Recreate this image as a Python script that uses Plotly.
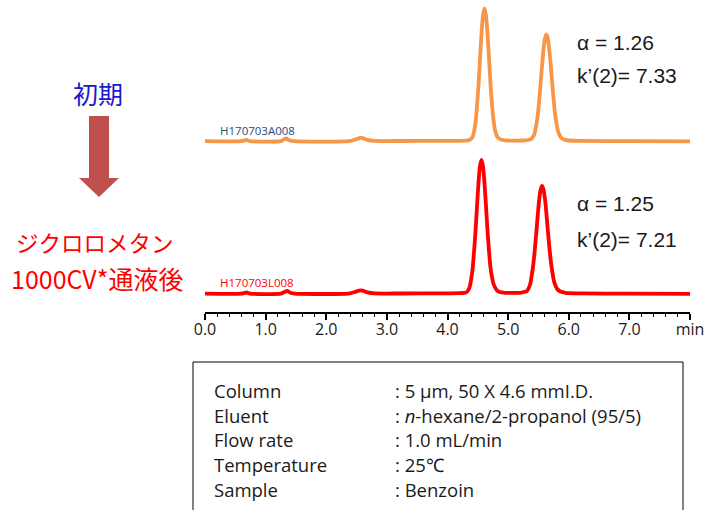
import plotly.graph_objects as go

# ---------------- data ----------------
# time axis in minutes, signal in arbitrary units (baseline = 0)
t_initial = [0.0, 0.60, 0.65, 0.69, 0.74, 1.25, 1.30, 1.34, 1.39, 1.46, 2.38, 2.48, 2.56, 2.60, 2.68, 2.80, 3.20, 3.90,
             4.30, 4.36, 4.41, 4.46, 4.51, 4.535, 4.56, 4.585, 4.61, 4.635, 4.66, 4.685, 4.71, 4.735, 4.76, 4.785,
             4.81, 4.86, 4.91, 4.97, 5.05, 5.15,
             5.25, 5.33, 5.38, 5.43, 5.48, 5.505, 5.53, 5.555, 5.58, 5.605, 5.63, 5.655, 5.68, 5.705, 5.73, 5.755,
             5.78, 5.83, 5.88, 5.93, 6.00, 6.20, 7.00, 8.0]
y_initial = [0.3, 0.3, 1.2, 1.6, 0.4, 0.3, 2.0, 3.0, 1.2, 0.4, 0.4, 2.0, 3.6, 3.4, 1.6, 0.6, 0.5, 0.6,
             0.9, 1.5, 4.0, 18, 55, 81, 107, 126, 133, 126, 108, 83, 57, 36, 21, 11,
             6, 2.5, 1.5, 1.0, 0.9, 0.9,
             1.0, 1.5, 2.5, 7, 22.5, 36, 53.5, 72.5, 90, 102.5, 107, 103, 91, 75, 56, 39,
             25, 9, 3.5, 1.8, 1.0, 0.6, 0.3, 0.2]

t_after = [0.0, 0.60, 0.65, 0.69, 0.74, 1.25, 1.31, 1.36, 1.41, 1.48, 2.36, 2.47, 2.56, 2.60, 2.68, 2.80, 3.20, 3.90,
           4.20, 4.26, 4.31, 4.36, 4.41, 4.435, 4.46, 4.485, 4.51, 4.535, 4.56, 4.585, 4.61, 4.635, 4.66, 4.685,
           4.71, 4.76, 4.81, 4.86, 4.95, 5.05,
           5.20, 5.26, 5.31, 5.36, 5.41, 5.435, 5.46, 5.485, 5.51, 5.535, 5.56, 5.585, 5.61, 5.635, 5.66, 5.685,
           5.71, 5.76, 5.81, 5.86, 5.95, 6.20, 7.00, 8.0]
y_after = [0.3, 0.3, 1.0, 1.5, 0.4, 0.3, 2.0, 3.0, 1.2, 0.4, 0.4, 2.0, 3.6, 3.4, 1.6, 0.6, 0.5, 0.6,
           0.8, 1.0, 1.5, 6, 23, 40, 61, 86, 110, 128, 134, 128, 111, 88, 63, 43,
           26, 10, 4, 2, 1.2, 1.2,
           1.2, 2, 3, 9, 27, 41, 58, 76, 93, 104, 108, 104, 94, 78, 60, 44,
           30, 12, 5, 2.5, 1.2, 0.6, 0.3, 0.2]

x_tick_vals = [0, 1, 2, 3, 4, 5, 6, 7, 8]
x_tick_text = ["0.0", "1.0", "2.0", "3.0", "4.0", "5.0", "6.0", "7.0", "min"]

label_initial = "H170703A008"
label_after = "H170703L008"
stats_initial = ["α = 1.26", "k’(2)= 7.33"]
stats_after = ["α = 1.25", "k’(2)= 7.21"]

cond_names = ["Column", "Eluent", "Flow rate", "Temperature", "Sample"]
cond_values = [": 5 µm, 50 X 4.6 mmI.D.", ": <i>n</i>-hexane/2-propanol (95/5)", ": 1.0 mL/min",
               ": 25℃", ": Benzoin"]

# ---------------- layout helpers ----------------
W, H = 705, 510
L, R, T, B = 205, 690, 0, 312       # plot area in pixels


def px(x):
    return (x - L) / (R - L)


def py(y):
    return (B - y) / (B - T)


off_initial = 170.5   # vertical stacking offsets (pixels above axis)
off_after = 18.0

fig = go.Figure()
fig.add_trace(go.Scatter(x=t_initial, y=[v + off_initial for v in y_initial], mode="lines",
                         line=dict(color="#f79646", width=3.8, shape="spline", smoothing=0.6),
                         hoverinfo="skip", showlegend=False))
fig.add_trace(go.Scatter(x=t_after, y=[v + off_after for v in y_after], mode="lines",
                         line=dict(color="#ff0000", width=3.8, shape="spline", smoothing=0.6),
                         hoverinfo="skip", showlegend=False))

ann = []


def text(x, y, s, size, color, family, xanchor="left"):
    ann.append(dict(x=px(x), y=py(y), xref="paper", yref="paper", text=s, showarrow=False,
                    xanchor=xanchor, yanchor="middle",
                    font=dict(size=size, color=color, family=family)))


CJK = "Noto Sans CJK JP"
text(98, 93, "初期", 25, "#1a1acc", CJK, "center")
text(95, 242, "ジクロロメタン", 22.5, "#ff0000", CJK, "center")
text(96.5, 278, "1000CV*通液後", 25, "#ff0000", CJK, "center")

text(218, 131, label_initial, 11.5, "#1f4e79", "Open Sans")
text(218, 282, label_after, 11.5, "#ff0000", "Open Sans")

ARIAL = "Liberation Sans"
text(575, 43, stats_initial[0], 21, "#1a1a1a", ARIAL)
text(575, 75, stats_initial[1], 21, "#1a1a1a", ARIAL)
text(575, 203, stats_after[0], 21, "#1a1a1a", ARIAL)
text(575, 240, stats_after[1], 21, "#1a1a1a", ARIAL)

row_y = [390, 415, 439.5, 464, 489]
for name, val, yy in zip(cond_names, cond_values, row_y):
    text(212, yy, name, 18.5, "#1a1a1a", "Open Sans")
    text(393, yy, val, 18.5, "#1a1a1a", "Open Sans")

# arrow (down) and the conditions box
arrow_pts = [(89, 116), (109, 116), (109, 178), (119, 178), (99, 197), (79, 178), (89, 178)]
path = "M " + " L ".join(f"{px(a):.5f},{py(b):.5f}" for a, b in arrow_pts) + " Z"
shapes = [
    dict(type="path", xref="paper", yref="paper", path=path, fillcolor="#c0504d",
         line=dict(width=0)),
    dict(type="rect", xref="paper", yref="paper", x0=px(193), x1=px(683), y0=py(362), y1=py(530),
         line=dict(color="#000000", width=1), fillcolor="rgba(0,0,0,0)"),
]

fig.update_layout(
    width=W, height=H,
    margin=dict(l=L, r=W - R, t=T, b=H - B, pad=0),
    paper_bgcolor="white", plot_bgcolor="white",
    annotations=ann, shapes=shapes,
    xaxis=dict(range=[0, 8], showgrid=False, zeroline=False, showline=True, linecolor="#000000",
               linewidth=1.5, ticks="outside", ticklen=6, tickwidth=1.5, tickcolor="#000000",
               tickvals=x_tick_vals, ticktext=x_tick_text, ticklabelstandoff=-4,
               ticklabeloverflow="allow",
               tickfont=dict(size=16, family="Open Sans", color="#1a1a1a"),
               minor=dict(dtick=0.2, ticks="outside", ticklen=3, tickwidth=1, tickcolor="#000000")),
    yaxis=dict(range=[0, B - T], visible=False, showgrid=False, zeroline=False),
)

# remove the default page margin so the figure fills the window exactly
fig.write_html("out.html", config={"displayModeBar": False},
               post_script="document.body.style.margin='0';document.body.style.overflow='hidden';")
